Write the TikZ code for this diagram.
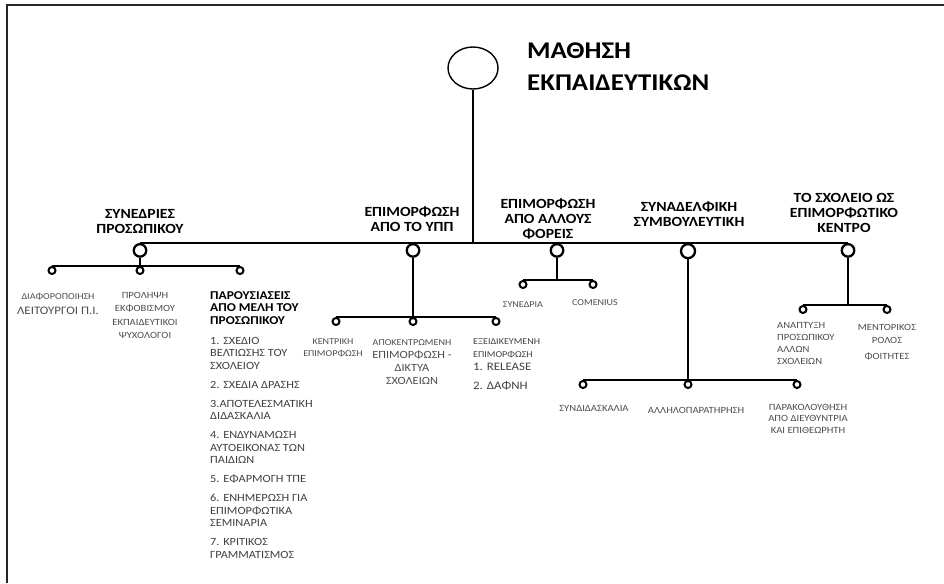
\documentclass[tikz,border=0pt]{standalone}
\usepackage{fontspec}
\setmainfont{Carlito}[FakeStretch = 1.12]
\usetikzlibrary{positioning, shapes.geometric}

\tikzset{
	root/.style = {ellipse, draw, line width = 1.4pt, minimum width = 50pt, minimum height = 42pt, inner sep = 0},
	hub/.style = {circle, draw, line width = 2.3pt, minimum size = 12.5pt, inner sep = 0, anchor = north},
	dot/.style = {circle, draw, line width = 2pt, minimum size = 7pt, inner sep = 0, anchor = north},
	stem/.style = {line width = 2pt},
	title/.style = {font = \bfseries\fontsize{24}{32}\selectfont, align = left, inner sep = 0, anchor = north west},
	cat/.style = {font = \bfseries\fontsize{14}{15}\selectfont, align = center, inner sep = 0, anchor = north},
	leaf/.style = {font = \fontsize{9.5}{12}\selectfont, text = black!70, align = center, inner sep = 0, anchor = north},
	listing/.style = {font = \fontsize{11}{12.5}\selectfont, text = black!75, align = left, inner sep = 0, anchor = north west}
}

\newcommand{\tinyline}[1]{{\fontsize{9}{11}\selectfont #1}}

\begin{document}
\begin{tikzpicture}[x = 1pt, y = -1pt]
	\useasboundingbox (0, 0) rectangle (944, 583);
	
	% frame
	\draw [line width = 2pt, black!85] (7, 583) -- (7, 5) -- (944, 5);
	
	\coordinate (bus) at (473, 243);
	
	\node [root] (root) at (473, 68) {};
	\node [title] (root label) at (527, 43) {ΜΑΘΗΣΗ\\ΕΚΠΑΙΔΕΥΤΙΚΩΝ};
	
	\node [hub] (hub A) at (140, 243) {};
	\node [hub] (hub B) at (413, 243) {};
	\node [hub] (hub C) at (557, 243) {};
	\node [hub, minimum size = 14pt] (hub D) at (688, 243) {};
	\node [hub] (hub E) at (848, 243) {};
	
	\draw [line width = 1.4pt] (root.south) -- (bus);
	\draw [line width = 2.6pt] (hub A.north) -- (hub E.north);
	
	\node [cat] (cat A) at (140, 209) {ΣΥΝΕΔΡΙΕΣ\\ΠΡΟΣΩΠΙΚΟΥ};
	\node [cat] (cat B) at (412, 207) {ΕΠΙΜΟΡΦΩΣΗ\\ΑΠΟ ΤΟ ΥΠΠ};
	\node [cat] (cat C) at (548, 199) {ΕΠΙΜΟΡΦΩΣΗ\\ΑΠΟ ΑΛΛΟΥΣ\\ΦΟΡΕΙΣ};
	\node [cat] (cat D) at (689, 202) {ΣΥΝΑΔΕΛΦΙΚΗ\\ΣΥΜΒΟΥΛΕΥΤΙΚΗ};
	\node [cat] (cat E) at (844, 193) {ΤΟ ΣΧΟΛΕΙΟ ΩΣ\\ΕΠΙΜΟΡΦΩΤΙΚΟ\\ΚΕΝΤΡΟ};
	
	% staff meetings
	\node [dot] (dot A1) at (52, 266) {};
	\node [dot] (dot A2) at (140, 266) {};
	\node [dot] (dot A3) at (240, 266) {};
	\draw [stem] (hub A.south) -- (dot A2.north);
	\draw [stem] (dot A1.north) -- (dot A3.north);
	
	\node [leaf, font = \fontsize{11.5}{15}\selectfont] (leaf A1) at (58, 293) {\tinyline{ΔΙΑΦΟΡΟΠΟΙΗΣΗ}\\ΛΕΙΤΟΥΡΓΟΙ Π.Ι.};
	\node [leaf, font = \fontsize{9.5}{13}\selectfont] (leaf A2) at (145, 292) {ΠΡΟΛΗΨΗ\\ΕΚΦΟΒΙΣΜΟΥ\\[1pt]ΕΚΠΑΙΔΕΥΤΙΚΟΙ\\ΨΥΧΟΛΟΓΟΙ};
	\node [listing, font = \bfseries\fontsize{12}{12.5}\selectfont, text = black] (leaf A3) at (210, 291) {ΠΑΡΟΥΣΙΑΣΕΙΣ\\ΑΠΟ ΜΕΛΗ ΤΟΥ\\ΠΡΟΣΩΠΙΚΟΥ};
	\node [listing] (list A3) at (210, 337) {1. ΣΧΕΔΙΟ\\ΒΕΛΤΙΩΣΗΣ ΤΟΥ\\ΣΧΟΛΕΙΟΥ\\[6.5pt]
		2. ΣΧΕΔΙΑ ΔΡΑΣΗΣ\\[6.5pt]
		3.ΑΠΟΤΕΛΕΣΜΑΤΙΚΗ\\ΔΙΔΑΣΚΑΛΙΑ\\[6.5pt]
		4. ΕΝΔΥΝΑΜΩΣΗ\\ΑΥΤΟΕΙΚΟΝΑΣ ΤΩΝ\\ΠΑΙΔΙΩΝ\\[6.5pt]
		5. ΕΦΑΡΜΟΓΗ ΤΠΕ\\[6.5pt]
		6. ΕΝΗΜΕΡΩΣΗ ΓΙΑ\\ΕΠΙΜΟΡΦΩΤΙΚΑ\\ΣΕΜΙΝΑΡΙΑ\\[6.5pt]
		7. ΚΡΙΤΙΚΟΣ\\ΓΡΑΜΜΑΤΙΣΜΟΣ};
	
	% training by the ministry
	\node [dot] (dot B1) at (336, 317) {};
	\node [dot] (dot B2) at (413, 317) {};
	\node [dot] (dot B3) at (496, 317) {};
	\draw [stem] (hub B.south) -- (dot B2.north);
	\draw [stem] (dot B1.north) -- (dot B3.north);
	
	\node [leaf, font = \fontsize{9}{11.5}\selectfont] (leaf B1) at (333, 339) {ΚΕΝΤΡΙΚΗ\\ΕΠΙΜΟΡΦΩΣΗ};
	\node [leaf, font = \fontsize{11}{13}\selectfont] (leaf B2) at (412, 339) {\tinyline{ΑΠΟΚΕΝΤΡΩΜΕΝΗ}\\ΕΠΙΜΟΡΦΩΣΗ -\\ΔΙΚΤΥΑ\\ΣΧΟΛΕΙΩΝ};
	\node [listing, font = \fontsize{11.5}{13}\selectfont] (leaf B3) at (473, 339) {\tinyline{ΕΞΕΙΔΙΚΕΥΜΕΝΗ}\\\tinyline{ΕΠΙΜΟΡΦΩΣΗ}\\1. RELEASE\\[6pt]2. ΔΑΦΝΗ};
	
	% other providers
	\node [dot] (dot C1) at (523, 280) {};
	\node [dot] (dot C2) at (593, 280) {};
	\draw [stem] (hub C.south) -- (hub C.south |- dot C1.north);
	\draw [stem] (dot C1.north) -- (dot C2.north);
	
	\node [leaf, font = \fontsize{9}{11}\selectfont] (leaf C1) at (523, 302) {ΣΥΝΕΔΡΙΑ};
	\node [leaf, font = \fontsize{9}{11}\selectfont] (leaf C2) at (595, 299) {COMENIUS};
	
	% peer mentoring
	\node [dot] (dot D1) at (583, 380) {};
	\node [dot] (dot D2) at (688, 380) {};
	\node [dot] (dot D3) at (797, 380) {};
	\draw [stem] (hub D.south) -- (dot D2.north);
	\draw [stem] (dot D1.north) -- (dot D3.north);
	
	\node [leaf] (leaf D1) at (594, 405) {ΣΥΝΔΙΔΑΣΚΑΛΙΑ};
	\node [leaf] (leaf D2) at (696, 407) {ΑΛΛΗΛΟΠΑΡΑΤΗΡΗΣΗ};
	\node [leaf, font = \fontsize{9.5}{11.5}\selectfont] (leaf D3) at (808, 404) {ΠΑΡΑΚΟΛΟΥΘΗΣΗ\\ΑΠΟ ΔΙΕΥΘΥΝΤΡΙΑ\\ΚΑΙ ΕΠΙΘΕΩΡΗΤΗ};
	
	% school as training centre
	\node [dot] (dot E1) at (803, 305) {};
	\node [dot] (dot E2) at (887, 305) {};
	\draw [stem] (hub E.south) -- (hub E.south |- dot E1.north);
	\draw [stem] (dot E1.north) -- (dot E2.north);
	
	\node [leaf, align = left, anchor = north west] (leaf E1) at (777, 322) {ΑΝΑΠΤΥΞΗ\\ΠΡΟΣΩΠΙΚΟΥ\\ΑΛΛΩΝ\\ΣΧΟΛΕΙΩΝ};
	\node [leaf, font = \fontsize{9.5}{13}\selectfont] (leaf E2) at (887, 324) {ΜΕΝΤΟΡΙΚΟΣ\\ΡΟΛΟΣ\\[3pt]ΦΟΙΤΗΤΕΣ};
\end{tikzpicture}
\end{document}
